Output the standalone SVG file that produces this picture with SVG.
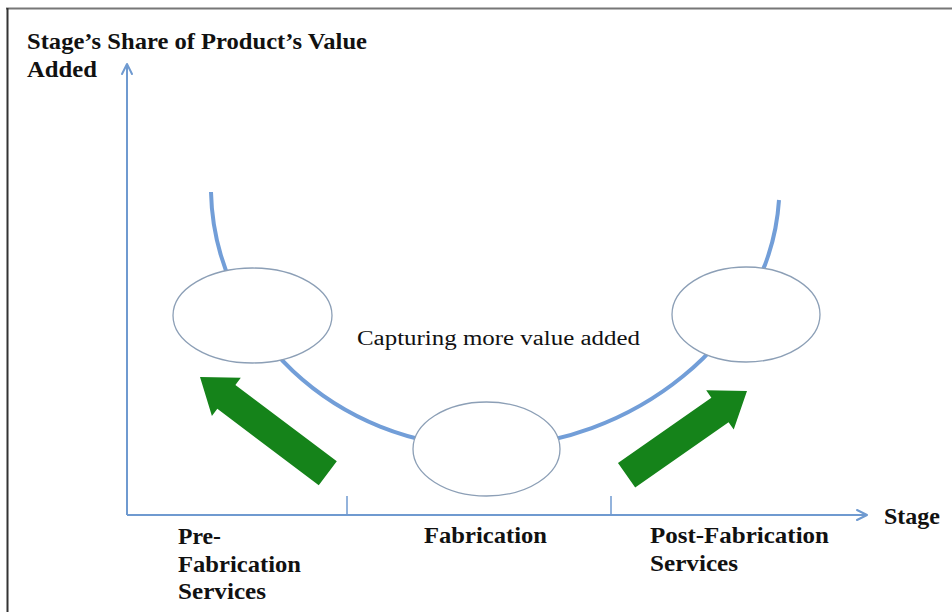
<svg xmlns="http://www.w3.org/2000/svg" width="952" height="612" viewBox="0 0 952 612">
<style>
.axis{stroke:#6f9ad0;stroke-width:2;fill:none}
.head{stroke:#6f9ad0;stroke-width:2;fill:none;stroke-linecap:round;stroke-linejoin:round}
.curve{stroke:#729ed8;stroke-width:4;fill:none}
.node{fill:#ffffff;stroke:#8c9fb6;stroke-width:1.3}
.garrow{fill:#15831a}
.bold{font-family:"Liberation Serif",serif;font-weight:bold;fill:#111}
.reg{font-family:"Liberation Serif",serif;fill:#111}
</style>
<rect x="0" y="0" width="952" height="612" fill="#ffffff"/>
<line x1="6" y1="8.5" x2="952" y2="8.5" stroke="#777" stroke-width="2"/>
<line x1="7.5" y1="8" x2="7.5" y2="612" stroke="#333" stroke-width="2"/>

<g id="connectors">
  <line class="axis" x1="127" y1="515" x2="127" y2="64"/>
  <polyline class="head" points="122,74 127,64 132,74"/>
  <line class="axis" x1="127" y1="515" x2="867" y2="515"/>
  <polyline class="head" points="857,510 867,515 857,520"/>
  <line class="axis" x1="347" y1="496" x2="347" y2="515" style="stroke-width:1.5"/>
  <line class="axis" x1="611" y1="496" x2="611" y2="515" style="stroke-width:1.5"/>
  <path class="curve" d="M211,192 C214,330 335,447 487,447 C630,447 770,340 779,200"/>
  <polygon class="garrow" transform="translate(200,377) rotate(217)" points="0,0 -33,-24 -33,-15 -160,-15 -160,15 -33,15 -33,24"/>
  <polygon class="garrow" transform="translate(747,391) rotate(-35)" points="0,0 -33,-24 -33,-15 -147,-15 -147,15 -33,15 -33,24"/>
</g>

<g id="node-pre">
  <ellipse class="node" cx="252.5" cy="315.5" rx="79.5" ry="47.5"/>
</g>
<g id="node-fab">
  <ellipse class="node" cx="486.5" cy="449" rx="73.5" ry="47"/>
</g>
<g id="node-post">
  <ellipse class="node" cx="746" cy="314.5" rx="74" ry="47.5"/>
</g>

<g id="labels">
  <text class="bold" x="27" y="49" font-size="23" textLength="340" lengthAdjust="spacingAndGlyphs">Stage’s Share of Product’s Value</text>
  <text class="bold" x="27" y="77" font-size="23" textLength="70" lengthAdjust="spacingAndGlyphs">Added</text>
  <text class="reg" x="357" y="345" font-size="20" textLength="283" lengthAdjust="spacingAndGlyphs">Capturing more value added</text>
  <text class="bold" x="884" y="524" font-size="23" textLength="56" lengthAdjust="spacingAndGlyphs">Stage</text>
  <text class="bold" x="178" y="544" font-size="23" textLength="43" lengthAdjust="spacingAndGlyphs">Pre-</text>
  <text class="bold" x="178" y="572" font-size="23" textLength="123" lengthAdjust="spacingAndGlyphs">Fabrication</text>
  <text class="bold" x="178" y="599" font-size="23" textLength="88" lengthAdjust="spacingAndGlyphs">Services</text>
  <text class="bold" x="424" y="543" font-size="23" textLength="123" lengthAdjust="spacingAndGlyphs">Fabrication</text>
  <text class="bold" x="650" y="543" font-size="23" textLength="179" lengthAdjust="spacingAndGlyphs">Post-Fabrication</text>
  <text class="bold" x="650" y="571" font-size="23" textLength="88" lengthAdjust="spacingAndGlyphs">Services</text>
</g>
</svg>
